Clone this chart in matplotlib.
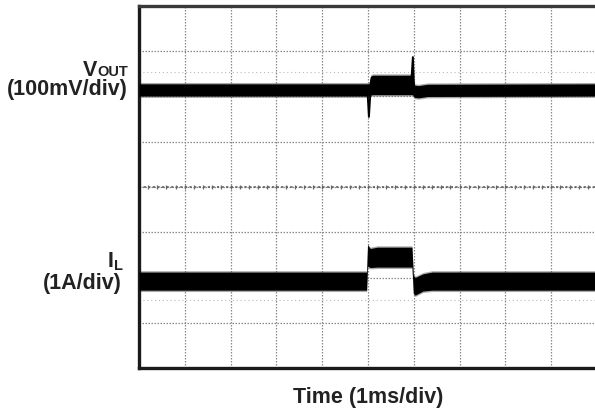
import numpy as np
import matplotlib
matplotlib.use('Agg')
import matplotlib.pyplot as plt

plt.rcParams['font.family'] = ['Liberation Sans', 'DejaVu Sans']

# screen units: x in time divisions (1 ms/div), y in vertical divisions (0..8)
# VOUT trace envelope (noisy band), load step between ~5 and ~6 div
t_v = [0, 5.02, 5.06, 5.10, 5.97, 6.02, 6.10, 6.30, 10]
v_hi = [6.28, 6.28, 6.45, 6.47, 6.47, 6.25, 6.24, 6.27, 6.28]
v_lo = [6.01, 6.01, 6.03, 6.04, 6.04, 5.98, 5.97, 6.00, 6.01]
# VOUT transient spikes at the step edges
spike_v_t = [[4.99, 5.02, 5.05, 5.08], [5.95, 5.98, 6.01, 6.05]]
spike_v_y = [[6.10, 5.55, 6.05, 6.40], [6.40, 6.87, 6.05, 6.00]]

# inductor current envelope
t_i = [0, 4.97, 4.99, 5.05, 5.20, 5.96, 5.99, 6.03, 6.20, 6.40, 10]
i_hi = [2.12, 2.12, 2.72, 2.64, 2.67, 2.67, 2.05, 2.00, 2.08, 2.12, 2.12]
i_lo = [1.72, 1.72, 2.25, 2.22, 2.23, 2.23, 1.65, 1.61, 1.70, 1.72, 1.72]

fig = plt.figure(figsize=(5.95, 4.13), dpi=100)
ax = fig.add_axes([139 / 595, 45 / 413, 458 / 595, 362 / 413])
ax.set_xlim(0, 10)
ax.set_ylim(0, 8)

# scope graticule
for x in range(1, 10):
    ax.axvline(x, color='#8a8a8a', lw=0.9, ls=(0, (1.2, 1.2)), zorder=1)
for y in range(1, 8):
    ax.axhline(y, color='#8a8a8a', lw=0.9, ls=(0, (1.2, 1.2)), zorder=1)
ax.axhline(4, color='#555555', lw=1.1, ls=(0, (1.5, 1.5)), zorder=1)
minor = np.arange(0.2, 10, 0.2)
ax.plot(minor, np.full_like(minor, 4), ls='none', marker='|', ms=3,
        mew=0.9, color='#666666', zorder=1)
for y in (6.54, 1.50):
    ax.axhline(y, color='#bbbbbb', lw=0.8, ls=(0, (1, 2.5)), zorder=1)

# traces: soft halo then solid band
for hi, lo, t in ((v_hi, v_lo, t_v), (i_hi, i_lo, t_i)):
    hi = np.array(hi)
    lo = np.array(lo)
    ax.fill_between(t, lo - 0.03, hi + 0.03, color='#555555', alpha=0.5,
                    lw=0, zorder=2)
    ax.fill_between(t, lo, hi, color='black', lw=0, zorder=3)
for tt, yy in zip(spike_v_t, spike_v_y):
    ax.plot(tt, yy, color='black', lw=1.4, zorder=3)

ax.set_xticks([])
ax.set_yticks([])
for side in ('left', 'top', 'bottom'):
    ax.spines[side].set_linewidth(2.4)
    ax.spines[side].set_color('#1a1a1a')
ax.spines['top'].set_color('#3a3a3a')
ax.spines['right'].set_visible(False)

txt = dict(fontweight='bold', color='#222222', va='baseline')


def fy(py):
    return 1 - py / 413


def fx(px):
    return px / 595


# channel labels with subscripts
fig.canvas.draw()
r = fig.canvas.get_renderer()
sub = fig.text(fx(128), fy(76), 'OUT', fontsize=10.5, ha='right', **txt)
bb = sub.get_window_extent(r)
fig.text(bb.x0 / fig.bbox.width, fy(76), 'V', fontsize=15.5, ha='right', **txt)
fig.text(fx(128), fy(95), '(100mV/div)', fontsize=15.5, ha='right', **txt)

sub = fig.text(fx(123), fy(270), 'L', fontsize=10.5, ha='right', **txt)
bb = sub.get_window_extent(r)
fig.text(bb.x0 / fig.bbox.width, fy(267), 'I', fontsize=15.5, ha='right', **txt)
fig.text(fx(122), fy(289), '(1A/div)', fontsize=15.5, ha='right', **txt)

fig.text(fx(368), fy(403), 'Time (1ms/div)', fontsize=15.5, ha='center', **txt)

fig.savefig('out.png', dpi=100)
